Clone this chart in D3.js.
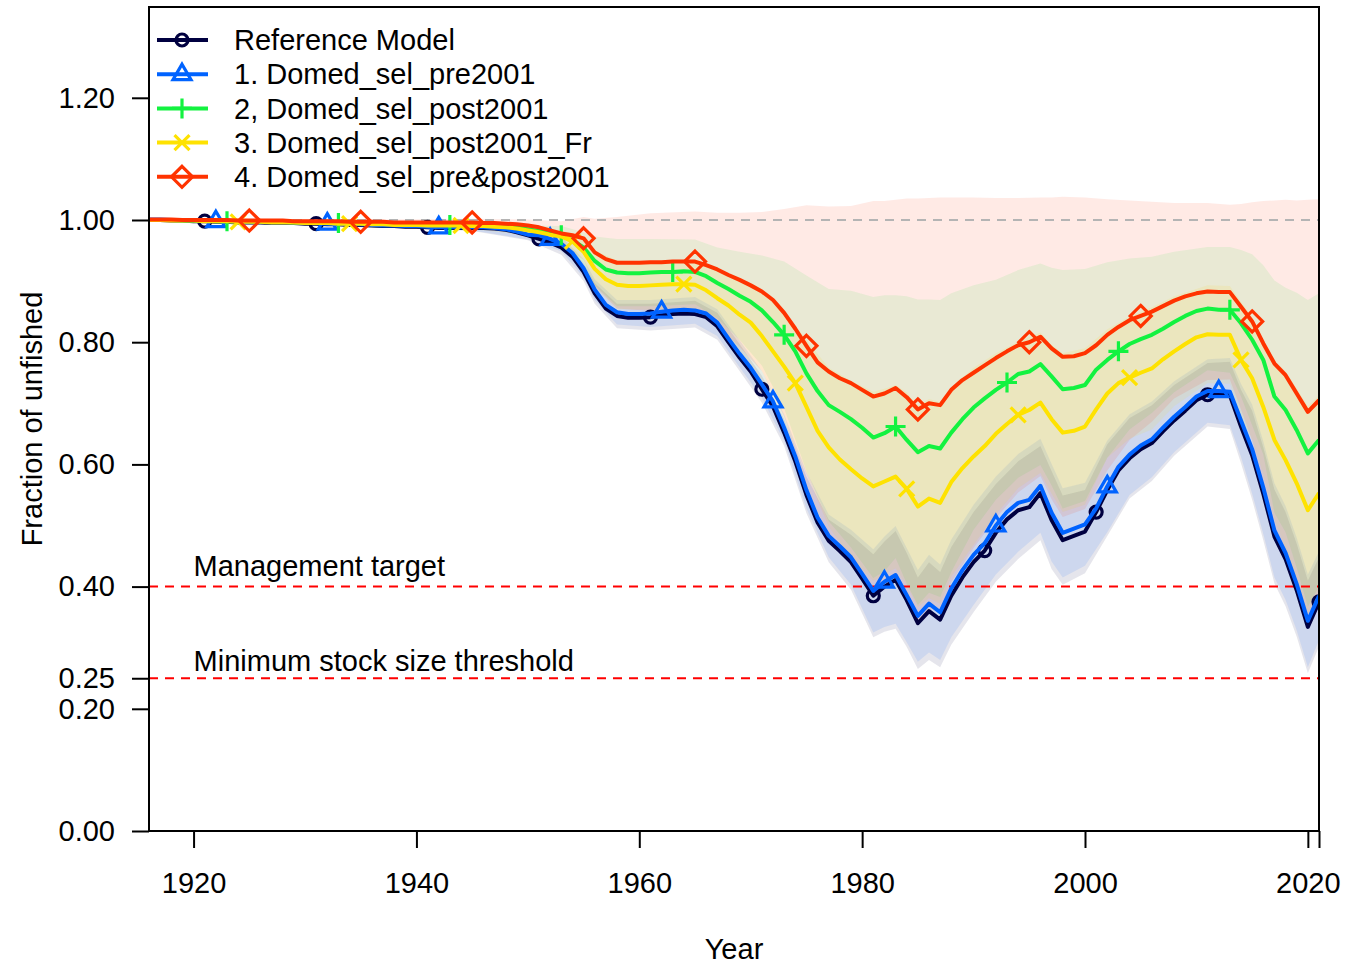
<!DOCTYPE html>
<html><head><meta charset="utf-8">
<script src="https://cdn.jsdelivr.net/npm/d3@7/dist/d3.min.js"></script>
<style>
body{margin:0;background:#fff}
svg{display:block}
text{font-family:"Liberation Sans",Arial,Helvetica,sans-serif;fill:#000}
</style>
</head><body>
<svg id="chart" width="1367" height="965"></svg>
<script>
// ---------------- DATA ----------------
const firstYear = 1916, lastYear = 2021;
const modelNames = ["Reference Model","1. Domed_sel_pre2001","2, Domed_sel_post2001","3. Domed_sel_post2001_Fr","4. Domed_sel_pre&post2001"];
const modelColors = ["#000040","#0063FF","#13F240","#FEE201","#FF3300"];
const markerTypes = ["circle","triangle","plus","cross","diamond"];
const markerStartYears = [1921,1922,1923,1924,1925];

// fraction of unfished, one value per year 1916..2021
const refModel = [
1.000,1.000,0.999,0.999,0.998,0.998,0.997,0.997,0.996,0.996,
0.996,0.995,0.995,0.995,0.994,0.994,0.993,0.993,0.992,0.992,
0.991,0.990,0.990,0.989,0.989,0.988,0.987,0.987,0.987,0.987,
0.987,0.986,0.984,0.980,0.975,0.969,0.963,0.955,0.940,0.915,
0.880,0.855,0.843,0.840,0.840,0.841,0.844,0.846,0.847,0.846,
0.841,0.826,0.800,0.775,0.752,0.723,0.695,0.652,0.605,0.550,
0.505,0.475,0.458,0.440,0.413,0.385,0.400,0.411,0.378,0.340,
0.360,0.346,0.385,0.415,0.440,0.459,0.488,0.510,0.525,0.530,
0.553,0.509,0.476,0.483,0.490,0.522,0.558,0.590,0.610,0.625,
0.635,0.654,0.672,0.688,0.705,0.714,0.714,0.713,0.662,0.615,
0.552,0.482,0.445,0.394,0.334,0.375];
const domedPre2001 = [
1.001,1.001,1.000,1.000,0.999,0.999,0.998,0.998,0.997,0.997,
0.997,0.996,0.996,0.996,0.995,0.995,0.994,0.994,0.993,0.993,
0.992,0.991,0.991,0.990,0.990,0.989,0.988,0.988,0.988,0.988,
0.988,0.987,0.985,0.981,0.976,0.975,0.969,0.961,0.946,0.921,
0.886,0.861,0.849,0.846,0.846,0.847,0.850,0.852,0.853,0.852,
0.847,0.832,0.806,0.781,0.758,0.731,0.703,0.660,0.613,0.558,
0.513,0.483,0.466,0.448,0.421,0.393,0.408,0.419,0.386,0.352,
0.372,0.358,0.397,0.427,0.452,0.471,0.500,0.522,0.537,0.542,
0.565,0.521,0.488,0.495,0.502,0.528,0.564,0.596,0.616,0.631,
0.641,0.660,0.678,0.694,0.711,0.720,0.720,0.719,0.672,0.625,
0.562,0.492,0.455,0.404,0.344,0.385];
const domedPost2001 = [
1.000,1.000,1.000,0.999,0.999,0.999,0.998,0.998,0.998,0.998,
0.997,0.997,0.997,0.996,0.996,0.996,0.996,0.995,0.995,0.995,
0.994,0.994,0.994,0.993,0.993,0.993,0.992,0.992,0.992,0.992,
0.992,0.991,0.990,0.988,0.985,0.982,0.979,0.975,0.967,0.955,
0.933,0.919,0.914,0.913,0.913,0.914,0.915,0.915,0.916,0.915,
0.908,0.897,0.887,0.876,0.866,0.852,0.833,0.812,0.785,0.749,
0.720,0.697,0.686,0.674,0.660,0.644,0.651,0.662,0.640,0.620,
0.630,0.626,0.652,0.674,0.693,0.708,0.722,0.734,0.748,0.752,
0.764,0.744,0.723,0.725,0.730,0.755,0.771,0.785,0.797,0.805,
0.812,0.822,0.833,0.843,0.851,0.855,0.853,0.853,0.831,0.804,
0.771,0.711,0.689,0.656,0.618,0.640];
const domedPost2001Fr = [
1.000,1.000,0.999,0.999,0.999,0.998,0.998,0.998,0.997,0.997,
0.997,0.996,0.996,0.996,0.995,0.995,0.995,0.994,0.994,0.994,
0.993,0.993,0.992,0.992,0.992,0.991,0.991,0.991,0.991,0.990,
0.990,0.989,0.988,0.986,0.983,0.980,0.976,0.973,0.965,0.948,
0.920,0.903,0.894,0.892,0.892,0.893,0.894,0.895,0.895,0.894,
0.885,0.872,0.860,0.845,0.832,0.810,0.785,0.760,0.733,0.694,
0.655,0.628,0.608,0.592,0.577,0.564,0.572,0.580,0.560,0.531,
0.544,0.537,0.571,0.594,0.613,0.630,0.650,0.666,0.681,0.689,
0.701,0.674,0.652,0.655,0.662,0.690,0.716,0.733,0.742,0.750,
0.757,0.772,0.785,0.797,0.808,0.813,0.812,0.812,0.771,0.741,
0.694,0.640,0.607,0.569,0.525,0.553];
const domedPrePost2001 = [
1.001,1.001,1.001,1.000,1.000,1.000,1.000,1.000,0.999,0.999,
0.999,0.999,0.999,0.998,0.998,0.998,0.998,0.998,0.997,0.997,
0.997,0.997,0.996,0.996,0.996,0.996,0.996,0.996,0.996,0.996,
0.995,0.995,0.994,0.993,0.991,0.988,0.983,0.978,0.975,0.970,
0.947,0.936,0.930,0.930,0.930,0.931,0.931,0.932,0.932,0.932,
0.926,0.919,0.910,0.902,0.893,0.883,0.869,0.848,0.822,0.794,
0.767,0.752,0.741,0.733,0.722,0.711,0.716,0.725,0.710,0.690,
0.700,0.697,0.722,0.738,0.750,0.762,0.774,0.785,0.795,0.800,
0.809,0.790,0.776,0.777,0.782,0.795,0.812,0.825,0.836,0.843,
0.850,0.859,0.868,0.875,0.880,0.883,0.882,0.882,0.858,0.834,
0.798,0.765,0.746,0.716,0.686,0.705];

// ~95% interval half-widths, read at these years
const bandYears = [1916,1925,1935,1945,1950,1953,1955,1956,1958,1961,1965,1967,1969,1971,1973,1975,1977,1979,1981,1982,1983,1984,1985,1986,1987,1988,1990,1992,1994,1996,1997,1998,2000,2002,2004,2006,2008,2011,2013,2014,2015,2016,2017,2018,2019,2020,2021];
const hwRef = [0.001,0.002,0.003,0.005,0.008,0.012,0.015,0.017,0.020,0.022,0.022,0.022,0.022,0.022,0.022,0.030,0.035,0.045,0.068,0.074,0.080,0.077,0.075,0.080,0.078,0.080,0.082,0.080,0.080,0.077,0.080,0.073,0.068,0.075,0.066,0.062,0.058,0.052,0.055,0.060,0.073,0.076,0.077,0.077,0.076,0.076,0.073];
const hwM1  = [0.001,0.002,0.003,0.005,0.008,0.012,0.015,0.017,0.020,0.022,0.022,0.022,0.022,0.022,0.022,0.030,0.035,0.045,0.068,0.074,0.080,0.077,0.075,0.080,0.078,0.080,0.082,0.080,0.080,0.077,0.080,0.073,0.068,0.075,0.066,0.062,0.058,0.052,0.055,0.060,0.073,0.076,0.077,0.077,0.076,0.076,0.073];
const hwM2  = [0.001,0.002,0.003,0.004,0.006,0.015,0.025,0.040,0.055,0.055,0.053,0.058,0.072,0.090,0.120,0.160,0.190,0.210,0.230,0.226,0.215,0.235,0.250,0.240,0.243,0.228,0.200,0.180,0.170,0.165,0.178,0.195,0.190,0.160,0.140,0.128,0.115,0.101,0.103,0.120,0.140,0.155,0.190,0.200,0.225,0.251,0.240];
const hwM3  = [0.001,0.002,0.003,0.005,0.008,0.010,0.025,0.030,0.040,0.040,0.040,0.048,0.058,0.075,0.090,0.110,0.130,0.145,0.155,0.152,0.150,0.158,0.165,0.163,0.165,0.155,0.145,0.132,0.120,0.115,0.122,0.130,0.128,0.105,0.100,0.100,0.090,0.080,0.080,0.095,0.100,0.110,0.130,0.145,0.155,0.170,0.160];
const hwM4  = [0.002,0.003,0.004,0.006,0.010,0.020,0.035,0.055,0.075,0.080,0.082,0.093,0.110,0.130,0.170,0.230,0.270,0.290,0.320,0.315,0.308,0.325,0.345,0.336,0.340,0.315,0.287,0.262,0.241,0.228,0.247,0.262,0.255,0.222,0.196,0.180,0.160,0.145,0.143,0.168,0.195,0.233,0.267,0.287,0.316,0.347,0.329];

const xTickValues = [1920,1940,1960,1980,2000,2020,2021];
const xTickLabels = ["1920","1940","1960","1980","2000","2020",""];
const yTickValues = [0,0.2,0.25,0.4,0.6,0.8,1.0,1.2];
const refLines = [{v:0.40,label:"Management target",off:11},{v:0.25,label:"Minimum stock size threshold",off:7}];
const unfishedLevel = 1.0;

// ---------------- CHART ----------------
const series = [refModel, domedPre2001, domedPost2001, domedPost2001Fr, domedPrePost2001];
const halfWidths = [hwRef, hwM1, hwM2, hwM3, hwM4];
const FS = 29;
const svg = d3.select("#chart");
const L = 149, R = 1319, T = 7, B = 831;
const x = d3.scaleLinear().domain([1916, 2021]).range([L, R]);
const y = d3.scaleLinear().domain([0, 1.3486]).range([B, T]);
const years = d3.range(firstYear, lastYear + 1);
const val = (s, yr) => s[yr - firstYear];

svg.append("defs").append("clipPath").attr("id","clip")
  .append("rect").attr("x",L).attr("y",T).attr("width",R-L).attr("height",B-T);
const plot = svg.append("g").attr("clip-path","url(#clip)");

// bands
series.forEach((s, i) => {
  const hw = halfWidths[i];
  const upper = bandYears.map((yr, k) => [x(yr), y(val(s, yr) + hw[k])]);
  const lower = bandYears.map((yr, k) => [x(yr), y(val(s, yr) - hw[k])]).reverse();
  plot.append("path")
    .attr("d", "M" + upper.concat(lower).map(p => p.join(",")).join("L") + "Z")
    .attr("fill", modelColors[i]).attr("fill-opacity", 0.1).attr("stroke","none");
});

// unfished reference
plot.append("line").attr("x1",L).attr("x2",R).attr("y1",y(unfishedLevel)).attr("y2",y(unfishedLevel))
  .attr("stroke","#b4b4b4").attr("stroke-width",2).attr("stroke-dasharray","9,7");

// management lines
refLines.forEach(r => {
  plot.append("line").attr("x1",L).attr("x2",R).attr("y1",y(r.v)).attr("y2",y(r.v))
    .attr("stroke","#ff0000").attr("stroke-width",2).attr("stroke-dasharray","9,7");
  svg.append("text").attr("x", x(1920)).attr("y", y(r.v) - r.off)
    .attr("font-size", FS).text(r.label);
});

function drawMarker(g, type, cx, cy, color) {
  const sw = 3.2;
  if (type === "circle") {
    g.append("circle").attr("cx",cx).attr("cy",cy).attr("r",6).attr("fill","none").attr("stroke",color).attr("stroke-width",sw);
  } else if (type === "triangle") {
    g.append("path").attr("d",`M${cx},${cy-10}L${cx+9},${cy+5.5}L${cx-9},${cy+5.5}Z`).attr("fill","none").attr("stroke",color).attr("stroke-width",sw);
  } else if (type === "plus") {
    g.append("path").attr("d",`M${cx-10},${cy}H${cx+10}M${cx},${cy-10}V${cy+10}`).attr("stroke",color).attr("stroke-width",sw);
  } else if (type === "cross") {
    g.append("path").attr("d",`M${cx-7.5},${cy-7.5}L${cx+7.5},${cy+7.5}M${cx-7.5},${cy+7.5}L${cx+7.5},${cy-7.5}`).attr("stroke",color).attr("stroke-width",sw);
  } else if (type === "diamond") {
    g.append("path").attr("d",`M${cx},${cy-10.5}L${cx+10.5},${cy}L${cx},${cy+10.5}L${cx-10.5},${cy}Z`).attr("fill","none").attr("stroke",color).attr("stroke-width",sw);
  }
}

// lines and markers
const line = d3.line().x(d => x(d[0])).y(d => y(d[1]));
series.forEach((s, i) => {
  plot.append("path").datum(years.map(yr => [yr, val(s, yr)]))
    .attr("d", line).attr("fill","none").attr("stroke", modelColors[i])
    .attr("stroke-width", 4).attr("stroke-linejoin","round");
  const mg = plot.append("g");
  for (let yr = markerStartYears[i]; yr <= lastYear; yr += 10) {
    drawMarker(mg, markerTypes[i], x(yr), y(val(s, yr)), modelColors[i]);
  }
});

// axes
const xAxis = d3.axisBottom(x).tickValues(xTickValues)
  .tickFormat((d, k) => xTickLabels[k]).tickSize(17).tickSizeOuter(0).tickPadding(24);
const gx = svg.append("g").attr("transform",`translate(0,${B})`).call(xAxis);
const yAxis = d3.axisLeft(y).tickValues(yTickValues).tickFormat(d3.format(".2f"))
  .tickSize(17).tickSizeOuter(0).tickPadding(17);
const gy = svg.append("g").attr("transform",`translate(${L},0)`).call(yAxis);
[gx, gy].forEach(g => {
  g.attr("font-size", FS).attr("font-family", null);
  g.select(".domain").remove();
  g.selectAll(".tick line").attr("stroke","#000").attr("stroke-width",2);
  g.selectAll(".tick text").attr("fill","#000");
});

// frame
svg.append("rect").attr("x",L).attr("y",T).attr("width",R-L).attr("height",B-T)
  .attr("fill","none").attr("stroke","#000").attr("stroke-width",2);

// axis titles
svg.append("text").attr("x",(L+R)/2).attr("y",959).attr("text-anchor","middle").attr("font-size",FS).text("Year");
svg.append("text").attr("transform",`translate(42,${(T+B)/2}) rotate(-90)`)
  .attr("text-anchor","middle").attr("font-size",FS).text("Fraction of unfished");

// legend
const leg = svg.append("g");
modelNames.forEach((name, i) => {
  const ly = 40 + i * 34.2;
  leg.append("line").attr("x1",157).attr("x2",208).attr("y1",ly).attr("y2",ly)
    .attr("stroke",modelColors[i]).attr("stroke-width",4);
  drawMarker(leg, markerTypes[i], 182, ly, modelColors[i]);
  leg.append("text").attr("x",234).attr("y",ly).attr("dy","0.35em").attr("font-size",FS).text(name);
});
</script>
</body></html>
